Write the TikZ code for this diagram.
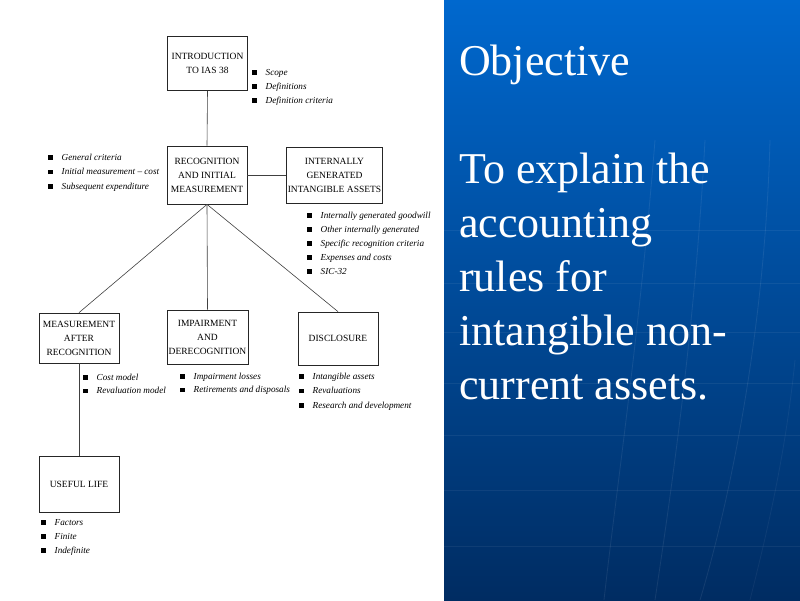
\documentclass[tikz,border=0pt]{standalone}
\usepackage{fontspec}
\setmainfont{Liberation Serif}
\begin{document}
\begin{tikzpicture}[x=1pt,y=-1pt,
  box/.style={draw=black!85,line width=0.75pt,align=center,inner sep=1pt,
    font=\fontsize{9.5}{14}\selectfont},
  conn/.style={draw=black!75,line width=0.6pt},
  item/.style={anchor=base west,inner sep=0pt,font=\fontsize{9.2}{14}\selectfont\itshape},
  bigtext/.style={anchor=base west,inner sep=0pt,text=white,font=\fontsize{44}{54}\selectfont}]
\useasboundingbox (0,0) rectangle (800,600);
\fill[white] (0,0) rectangle (800,600);
% right panel
\shade[top color={rgb,255:red,0;green,104;blue,206}, bottom color={rgb,255:red,0;green,44;blue,98}]
  (444,0) rectangle (800,600);
\foreach \yy in {230,283,332,383,435,490,546}
  \draw[white,opacity=0.06,line width=0.8pt] (444,\yy) -- (800,\yy);
\draw[white,opacity=0.08,line width=0.8pt] (655,140) .. controls (640,330) and (615,500) .. (604,600);
\draw[white,opacity=0.08,line width=0.8pt] (705,140) .. controls (695,330) and (670,500) .. (655,600);
\draw[white,opacity=0.08,line width=0.8pt] (770,140) .. controls (765,330) and (730,500) .. (700,600);
\draw[white,opacity=0.05,line width=0.8pt] (795,360) .. controls (785,460) and (765,540) .. (750,600);
% right text
\node[bigtext] (obj) at (459,75) {Objective};
\node[bigtext] (t1) at (459,183) {To explain the};
\node[bigtext] (t2) at (459,237) {accounting};
\node[bigtext] (t3) at (459,291) {rules for};
\node[bigtext] (t4) at (459,345) {intangible non-};
\node[bigtext] (t5) at (459,399) {current assets.};
% boxes
\node[box,minimum width=80pt,minimum height=54pt] (intro) at (207.5,63.5) {INTRODUCTION\\TO IAS 38};
\node[box,minimum width=80pt,minimum height=58pt] (recog) at (207,175) {RECOGNITION\\AND INITIAL\\MEASUREMENT};
\node[box,minimum width=95pt,minimum height=56pt] (intern) at (334.5,175) {INTERNALLY\\GENERATED\\INTANGIBLE ASSETS};
\node[box,minimum width=80pt,minimum height=50pt] (meas) at (79,338) {MEASUREMENT\\AFTER\\RECOGNITION};
\node[box,minimum width=81pt,minimum height=54pt] (impair) at (207.5,337) {IMPAIRMENT\\AND\\DERECOGNITION};
\node[box,minimum width=80pt,minimum height=53pt] (discl) at (338,338.5) {DISCLOSURE};
\node[box,minimum width=80pt,minimum height=56pt] (useful) at (79,484) {USEFUL LIFE};
% connectors
\draw[conn] (intro.south) -- (recog.north);
\draw[conn] (recog.east) -- (intern.west);
\draw[conn] (recog.south) -- (meas.north);
\draw[conn] (recog.south) -- (impair.north);
\draw[conn] (recog.south) -- (discl.north);
\draw[conn] (meas.south) -- (useful.north);
% bullet lists
\newcommand{\bul}{\raisebox{0.3pt}{\rule{4.5pt}{4.5pt}}\hspace{9pt}}
\foreach \t [count=\i] in {Scope,Definitions,Definition criteria}
  \node[item] (la\i) at (252,{75+14*(\i-1)}) {\bul\t};
\foreach \t [count=\i] in {General criteria,Initial measurement -- cost,Subsequent expenditure}
  \node[item] (lb\i) at (48,{160+14.5*(\i-1)}) {\bul\t};
\foreach \t [count=\i] in {Internally generated goodwill,Other internally generated,Specific recognition criteria,Expenses and costs,SIC-32}
  \node[item] (lc\i) at (307,{218+14*(\i-1)}) {\bul\t};
\foreach \t [count=\i] in {Cost model,Revaluation model}
  \node[item] (ld\i) at (83,{380+13.5*(\i-1)}) {\bul\t};
\foreach \t [count=\i] in {Impairment losses,Retirements and disposals}
  \node[item] (le\i) at (180,{379+13.5*(\i-1)}) {\bul\t};
\foreach \t [count=\i] in {Intangible assets,Revaluations,Research and development}
  \node[item] (lf\i) at (299,{379+14.5*(\i-1)}) {\bul\t};
\foreach \t [count=\i] in {Factors,Finite,Indefinite}
  \node[item] (lg\i) at (41,{525+14*(\i-1)}) {\bul\t};
\end{tikzpicture}
\end{document}
